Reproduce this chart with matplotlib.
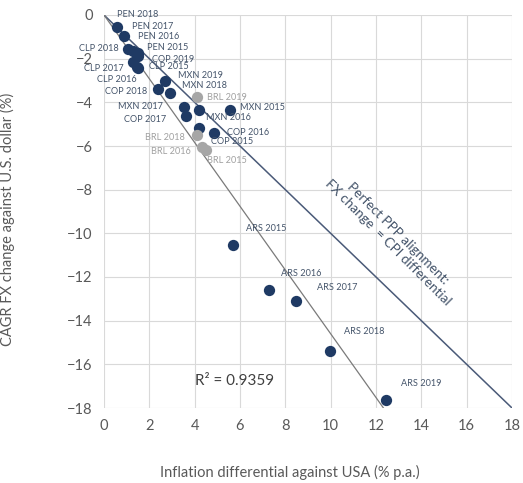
import matplotlib
matplotlib.use("Agg")
import matplotlib.pyplot as plt
import numpy as np

plt.rcParams['font.family'] = ['Lato', 'DejaVu Sans']

# ---- data ----
labels = ["PEN 2018", "PEN 2017", "PEN 2016", "CLP 2018", "PEN 2015", "COP 2019",
          "CLP 2017", "CLP 2015", "CLP 2016", "MXN 2019", "MXN 2018", "COP 2018",
          "BRL 2019", "MXN 2017", "MXN 2015", "COP 2017", "MXN 2016", "COP 2016",
          "COP 2015", "BRL 2018", "BRL 2016", "BRL 2015",
          "ARS 2015", "ARS 2016", "ARS 2017", "ARS 2018", "ARS 2019"]
inflation_diff = [0.56, 0.90, 1.29, 1.07, 1.49, 1.50,
                  1.27, 1.45, 1.52, 2.67, 2.89, 2.40,
                  4.10, 3.55, 5.55, 3.61, 4.20, 4.87,
                  4.21, 4.10, 4.32, 4.49,
                  5.68, 7.27, 8.45, 9.97, 12.43]
fx_change = [-0.54, -0.96, -1.63, -1.57, -1.72, -1.88,
             -2.14, -2.37, -2.41, -3.04, -3.59, -3.40,
             -3.77, -4.20, -4.35, -4.61, -4.35, -5.39,
             -5.19, -5.50, -6.03, -6.18,
             -10.54, -12.60, -13.09, -15.38, -17.64]
is_brl = [l.startswith("BRL") for l in labels]

# label offsets (pixels) relative to each dot: layout only
label_offsets = [(21, 12), (28, 9), (25, 14), (-29, 1), (30, 5), (35, -3),
                 (-29, -7), (32, 0), (-22, -12), (36, 6), (35, 8), (-32, -2),
                 (30, 0), (-44, 0), (33, 2), (-41, -4), (29, -8), (34, 0),
                 (33, -13), (-32, -2), (-31, -5), (21, -11),
                 (34, 17), (32, 17), (42, 13), (34, 19), (36, 17)]

ppp_x = [0, 18]
ppp_y = [0, -18]
trend_slope = -1.46
trend_intercept = 0.0
r2_text = "R\u00b2 = 0.9359"
ppp_text = "Perfect PPP alignment:\nFX change  = CPI differential"

x_ticks = list(range(0, 19, 2))
y_ticks = list(range(0, -19, -2))

# ---- figure ----
fig = plt.figure(figsize=(5.23, 4.83), dpi=100)
ax = fig.add_axes([104/523, 1-408/483, 408/523, 393/483])

navy = "#1F3A64"
gray_dot = "#A6A6A6"
label_blue = "#44546A"
label_gray = "#A0A0A0"

ax.set_xlim(0, 18)
ax.set_ylim(-18, 0)
ax.set_xticks(x_ticks)
ax.set_yticks(y_ticks)
ax.grid(True, color="#D9D9D9", linewidth=0.8)
ax.set_axisbelow(True)
for s in ax.spines.values():
    s.set_visible(False)
ax.tick_params(length=0, labelsize=10.5, labelcolor="#595959", pad=8)

# lines
ax.plot(ppp_x, ppp_y, color="#4A5A78", linewidth=1.1, zorder=2)
tx = np.array([0, 18])
ax.plot(tx, trend_intercept + trend_slope * tx, color="#7A7A7A", linewidth=0.9, zorder=2)

# points
xs = np.array(inflation_diff)
ys = np.array(fx_change)
brl = np.array(is_brl)
ax.scatter(xs[~brl], ys[~brl], s=66, color=navy, zorder=3, linewidths=0)
ax.scatter(xs[brl], ys[brl], s=66, color=gray_dot, zorder=3, linewidths=0)

for lab, x, y, off, b in zip(labels, inflation_diff, fx_change, label_offsets, is_brl):
    ax.annotate(lab, (x, y), xytext=off, textcoords="offset pixels",
                ha="center", va="center", fontsize=6.6,
                color=label_gray if b else label_blue, zorder=4,
                annotation_clip=False)

ax.text(4.03, -16.77, r2_text, fontsize=11, color="#404040", ha="left", va="center")
ax.text(12.75, -10.2, ppp_text, fontsize=9.8, color=label_blue, ha="center", va="center",
        rotation=-45, rotation_mode="anchor", linespacing=1.15)

ax.set_xlabel("Inflation differential against USA (% p.a.)", fontsize=10.5, color="#595959")
ax.set_ylabel("CAGR FX change against U.S. dollar (%)", fontsize=10.5, color="#595959")
ax.xaxis.set_label_coords((290-104)/408, -(465-408)/393)
ax.yaxis.set_label_coords(-(104-15)/408, (408-219)/393)

fig.savefig("out.png", dpi=100)
